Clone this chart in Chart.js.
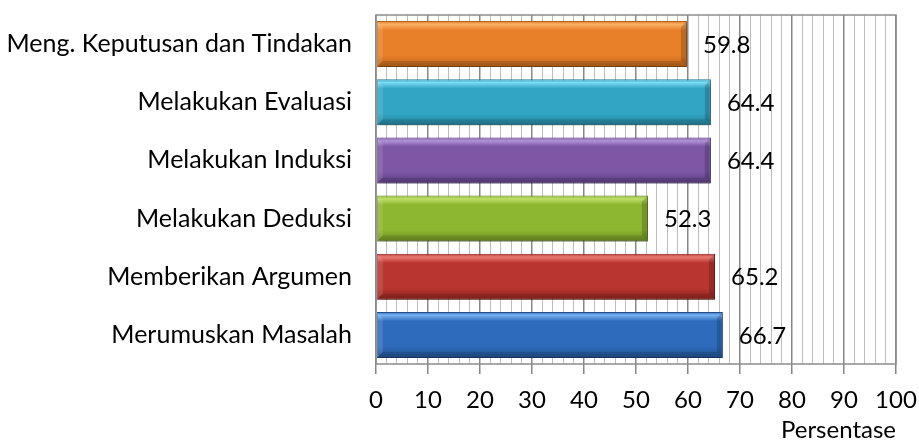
<!DOCTYPE html>
<html>
<head>
    <title>Persentase</title>
    <script src="https://cdn.jsdelivr.net/npm/chart.js"></script>
    <style>
        html, body { margin: 0; padding: 0; background: #fff; }
        .chart-box { width: 919px; height: 443px; }
    </style>
</head>
<body>
    <div class="chart-box">
        <canvas id="bar-chart"></canvas>
    </div>

    <script>
        // data, top to bottom as drawn
        const categories = [
            'Meng. Keputusan dan Tindakan',
            'Melakukan Evaluasi',
            'Melakukan Induksi',
            'Melakukan Deduksi',
            'Memberikan Argumen',
            'Merumuskan Masalah'
        ];
        const values = [59.8, 64.4, 64.4, 52.3, 65.2, 66.7];
        const xTicks = [0, 10, 20, 30, 40, 50, 60, 70, 80, 90, 100];
        const axisTitle = 'Persentase';

        // light / body / dark per bar
        const barColors = [
            ['#F9B066', '#E8802A', '#B5611A'],
            ['#7ADCF2', '#33A5C4', '#22809A'],
            ['#B093D6', '#7D56A6', '#5C3E80'],
            ['#BEE06A', '#8DB631', '#6B8C24'],
            ['#EC7A75', '#B83530', '#8C231F'],
            ['#7AB2F0', '#2E6BBD', '#224F8A']
        ];

        const FONT = 'Lato, "Noto Sans", sans-serif';
        const BAR_PCT = 0.79;

        function barGradient(ctx) {
            const chart = ctx.chart;
            const cols = barColors[ctx.dataIndex];
            const yScale = chart.scales.y;
            if (!yScale || !chart.chartArea) return cols[1];
            const center = yScale.getPixelForValue(ctx.dataIndex);
            const h = (yScale.height / categories.length) * BAR_PCT;
            const g = chart.ctx.createLinearGradient(0, center - h / 2, 0, center + h / 2);
            g.addColorStop(0, cols[1]);
            g.addColorStop(0.07, cols[0]);
            g.addColorStop(0.2, cols[1]);
            g.addColorStop(0.75, cols[1]);
            g.addColorStop(1, cols[2]);
            return g;
        }

        function zeroPad(scale) {
            scale.paddingLeft = 0;
            scale.paddingRight = 0;
            scale.paddingTop = 0;
            scale.paddingBottom = 0;
        }

        // drop shadow under bars
        const shadowPlugin = {
            id: 'barShadow',
            beforeDatasetsDraw(chart) {
                const c = chart.ctx;
                c.save();
                c.shadowColor = 'rgba(0,0,0,0.35)';
                c.shadowBlur = 5;
                c.shadowOffsetY = 3;
                c.shadowOffsetX = 1;
            },
            afterDatasetsDraw(chart) {
                chart.ctx.restore();
            }
        };

        // bevel edges on each bar
        const bevel = {
            id: 'bevel',
            afterDatasetsDraw(chart) {
                const c = chart.ctx;
                const b = 6;
                c.save();
                chart.getDatasetMeta(0).data.forEach(bar => {
                    const x0 = bar.base, x1 = bar.x;
                    const y0 = bar.y - bar.height / 2, y1 = bar.y + bar.height / 2;
                    // right edge
                    c.fillStyle = 'rgba(0,0,0,0.18)';
                    c.beginPath();
                    c.moveTo(x1, y0); c.lineTo(x1, y1); c.lineTo(x1 - b, y1 - b); c.lineTo(x1 - b, y0 + b);
                    c.closePath(); c.fill();
                    // left edge
                    c.fillStyle = 'rgba(255,255,255,0.12)';
                    c.beginPath();
                    c.moveTo(x0, y0); c.lineTo(x0 + b, y0 + b); c.lineTo(x0 + b, y1 - b); c.lineTo(x0, y1);
                    c.closePath(); c.fill();
                    // bottom edge
                    c.fillStyle = 'rgba(0,0,0,0.12)';
                    c.beginPath();
                    c.moveTo(x0, y1); c.lineTo(x0 + b, y1 - b); c.lineTo(x1 - b, y1 - b); c.lineTo(x1, y1);
                    c.closePath(); c.fill();
                });
                c.restore();
            }
        };

        // value labels right of each bar
        const valueLabels = {
            id: 'valueLabels',
            afterDatasetsDraw(chart) {
                const c = chart.ctx;
                const meta = chart.getDatasetMeta(0);
                c.save();
                c.font = '24px ' + FONT;
                c.fillStyle = '#000';
                c.textAlign = 'left';
                c.textBaseline = 'middle';
                meta.data.forEach((bar, i) => {
                    c.fillText(values[i].toFixed(1), bar.x + 16, bar.y + 1);
                });
                c.restore();
            }
        };

        // frame round the plot area
        const frame = {
            id: 'frame',
            beforeDatasetsDraw(chart) {
                const a = chart.chartArea;
                const c = chart.ctx;
                c.save();
                c.strokeStyle = '#8C8C8C';
                c.lineWidth = 1.5;
                c.strokeRect(a.left, a.top, a.right - a.left, a.bottom - a.top);
                c.restore();
            }
        };

        new Chart(document.getElementById('bar-chart'), {
            type: 'bar',
            data: {
                labels: categories,
                datasets: [{
                    data: values,
                    backgroundColor: barGradient,
                    borderColor: barColors.map(c => c[2]),
                    borderWidth: 1,
                    borderSkipped: false,
                    barPercentage: BAR_PCT,
                    categoryPercentage: 1
                }]
            },
            options: {
                indexAxis: 'y',
                responsive: true,
                maintainAspectRatio: false,
                animation: false,
                layout: { padding: { top: 15, right: 23, left: 0, bottom: 0 } },
                plugins: {
                    legend: { display: false },
                    tooltip: { enabled: false }
                },
                scales: {
                    x: {
                        min: 0,
                        max: 100,
                        afterBuildTicks(scale) {
                            const t = [];
                            for (let v = 0; v <= 100; v += 2) t.push({ value: v });
                            scale.ticks = t;
                        },
                        afterFit(scale) {
                            scale.height = 79;
                            zeroPad(scale);
                        },
                        border: { display: false },
                        grid: {
                            color: c => (c.tick && c.tick.value % 10 === 0) ? '#878787' : '#BDBDBD',
                            lineWidth: c => (c.tick && c.tick.value % 10 === 0) ? 1.5 : 1,
                            tickColor: c => (c.tick && c.tick.value % 10 === 0) ? '#878787' : 'rgba(0,0,0,0)',
                            tickLength: 10,
                            drawTicks: true
                        },
                        ticks: {
                            autoSkip: false,
                            maxRotation: 0,
                            padding: 12,
                            color: '#000',
                            font: { family: FONT, size: 24 },
                            callback: v => xTicks.includes(v) ? String(v) : ''
                        },
                        title: {
                            display: true,
                            text: axisTitle,
                            align: 'end',
                            color: '#000',
                            font: { family: FONT, size: 24, lineHeight: 1 },
                            padding: { top: 0, bottom: 1 }
                        }
                    },
                    y: {
                        afterFit(scale) {
                            scale.width = 376;
                            zeroPad(scale);
                        },
                        border: { display: false },
                        grid: { display: false, drawTicks: false },
                        ticks: {
                            padding: 24,
                            color: '#000',
                            font: { family: FONT, size: 25 }
                        }
                    }
                }
            },
            plugins: [frame, shadowPlugin, valueLabels, bevel]
        });
    </script>
</body>
</html>
